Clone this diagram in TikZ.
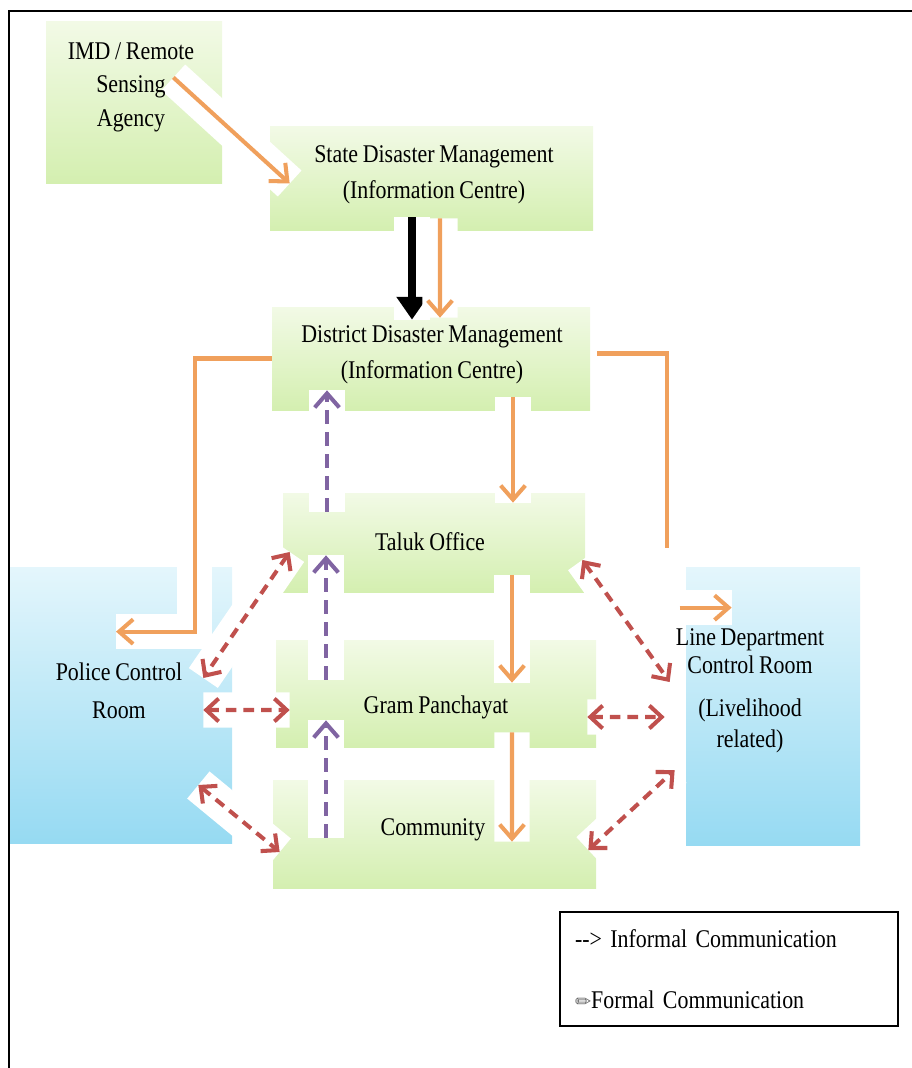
\documentclass[tikz,border=0pt]{standalone}
\usepackage{fontspec}
\setmainfont{Liberation Serif}[FakeStretch=0.86, WordSpace=0.86]
\newfontfamily\symfont{DejaVu Sans}
\usepackage{tikz}
\usetikzlibrary{arrows.meta, positioning, calc}

\begin{document}
\begin{tikzpicture}[x=0.02cm, y=-0.02cm,
    greenbox/.style 2 args={inner sep=0pt, top color=boxTop, bottom color=boxBot, minimum width=#1*\px, minimum height=#2*\px},
    bluebox/.style 2 args={inner sep=0pt, top color=blueTop, bottom color=blueBot, minimum width=#1*\px, minimum height=#2*\px},
    lbl/.style={font=\fontsize{14.5}{20.5}\selectfont, align=center, inner sep=0pt},
    halo/.style={preaction={draw=white, line width=20pt, arrows=-, solid, line cap=butt}},
    formal/.style={halo, draw=colF, line width=2.3pt, -{Straight Barb[length=8pt, width=14pt]}},
    formalline/.style={formal, -},
    blackarrow/.style={halo, draw=black, line width=5pt, -{Triangle[length=13pt, width=17pt]}},
    upinformal/.style={halo, draw=colP, line width=2.3pt, dash pattern=on 8pt off 4.5pt, -{Straight Barb[length=8pt, width=14pt]}},
    twoway/.style={halo, draw=colR, line width=2.3pt, dash pattern=on 6pt off 4pt, {Straight Barb[length=7pt, width=13pt]}-{Straight Barb[length=7pt, width=13pt]}},
    legendbox/.style={draw, line width=1pt, minimum width=338*\px, minimum height=114*\px, text width=308*\px, inner xsep=15*\px, align=left, font=\fontsize{14.5}{17.5}\selectfont}]

% ------------------------
% Colors
% ------------------------
\definecolor{boxTop}{RGB}{242,250,230}
\definecolor{boxBot}{RGB}{212,239,176}
\definecolor{blueTop}{RGB}{228,246,252}
\definecolor{blueBot}{RGB}{150,218,242}
\definecolor{colF}{RGB}{240,160,92}
\definecolor{colP}{RGB}{128,100,162}
\definecolor{colR}{RGB}{192,80,77}

% one pixel of the page
\def\px{0.02cm}

\useasboundingbox (0,0) rectangle (912,1068);

% ------------------------
% Boxes
% ------------------------
\node[greenbox={176}{161}] (imd) at (134,102.5) {};
\node[greenbox={323}{103}] (sdm) at (431.5,178.5) {};
\node[greenbox={318}{103}] (ddm) at (431,358.5) {};
\node[greenbox={302}{99}] (taluk) at (434,542.5) {};
\node[greenbox={320}{107}] (gram) at (436,693.5) {};
\node[greenbox={323}{108}] (comm) at (434.5,834) {};
\node[bluebox={222}{276}] (police) at (121,705) {};
\node[bluebox={174}{278}] (linedept) at (773,706) {};

% ------------------------
% Formal communication
% ------------------------
\draw[formal] ($(imd.east)+(-49,-25)$) -- ($(sdm.west)+(20,5)$);
\draw[blackarrow] ($(sdm.south)+(-19.5,-13)$) -- ($(ddm.north)+(-19,13)$);
\draw[formal] ($(sdm.south)+(8.5,-12)$) -- ($(ddm.north)+(9,11)$);
\draw[formal] (ddm.west) -- ++(-77,0) |- ($(police.north)+(-5,65)$);
\draw[formalline] ($(ddm.east)+(7,-5)$) -| ($(linedept.north west)+(-19,-19)$);
\draw[formal] ($(linedept.north west)+(-6,41)$) -- ($(linedept.north west)+(46,41)$);
\draw[formal] ($(ddm.south)+(82,-13)$) -- ($(taluk.north)+(79,10)$);
\draw[formal] ($(taluk.south)+(78,-17)$) -- ($(gram.north)+(76,43)$);
\draw[formal] ($(gram.south)+(76,-15)$) -- ($(comm.north)+(77.5,62)$);

% ------------------------
% Informal communication
% ------------------------
\draw[upinformal] ($(taluk.north)+(-107,19)$) -- ($(ddm.south)+(-104,-20)$);
\draw[upinformal] ($(gram.north)+(-110,40)$) -- ($(taluk.south)+(-108,-37)$);
\draw[upinformal] ($(comm.north)+(-108.5,58)$) -- ($(gram.south)+(-110,-27)$);

\draw[twoway] ($(taluk.west)+(7,9.5)$) -- ($(police.east)+(-29,-27)$);
\draw[twoway] ($(police.east)+(-29,5)$) -- ($(gram.west)+(14,16.5)$);
\draw[twoway] ($(police.east)+(-34,80)$) -- ($(comm.west)+(7,18)$);
\draw[twoway] ($(taluk.east)+(-3,17.5)$) -- ($(linedept.west)+(-16,-24)$);
\draw[twoway] ($(gram.east)+(-9,23.5)$) -- ($(linedept.west)+(-21,11)$);
\draw[twoway] ($(comm.east)+(-8,16)$) -- ($(linedept.west)+(-11,64)$);

% ------------------------
% Texts
% ------------------------
\node[lbl, font=\fontsize{14.5}{19}\selectfont] (imdT) at (131,87) {IMD / Remote\\Sensing\\Agency};
\node[lbl] (sdmT) at (434,175) {State Disaster Management\\(Information Centre)};
\node[lbl] (ddmT) at (432,355) {District Disaster Management\\(Information Centre)};
\node[lbl] (talukT) at (430,542) {Taluk Office};
\node[lbl] (gramT) at (436,707) {Gram Panchayat};
\node[lbl] (commT) at (433,830) {Community};
\node[lbl, font=\fontsize{14.5}{21.5}\selectfont] (policeT) at (119,691) {Police Control\\Room};
\node[lbl] (lineT) at (750,691) {Line Department\\[-5pt]Control Room\\[4pt](Livelihood\\[-2.5pt]related)};

% legend
\node[legendbox] (legend) at (729,969) {-\kern0pt-\kern0pt> Informal Communication\\[17pt]{\symfont\fontsize{11}{11}\selectfont\color{black!60}✏}Formal Communication};

% frame
\draw[line width=1.7pt] (9,1068) -- (9,11) -- (912,11);

\end{tikzpicture}
\end{document}
